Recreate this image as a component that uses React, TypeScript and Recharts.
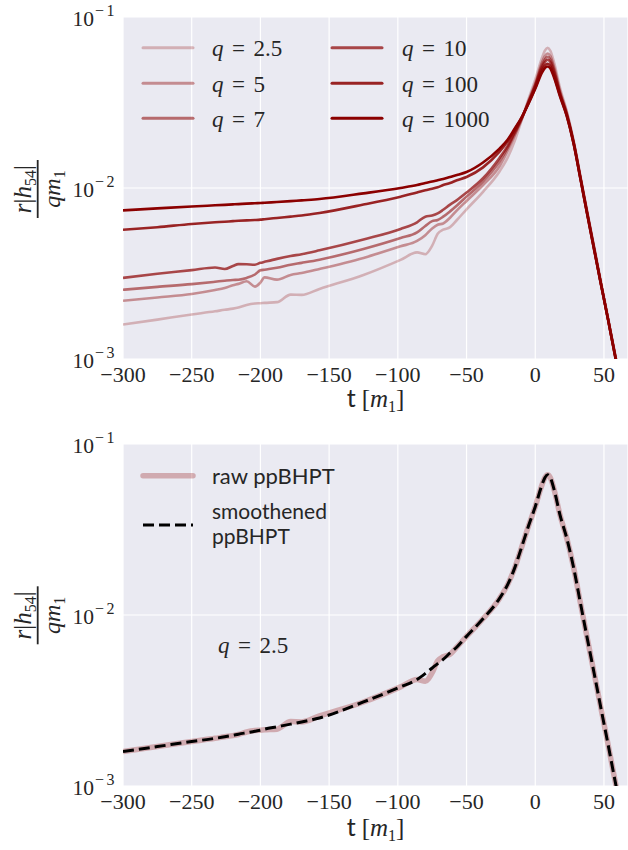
import React from 'react';
import { LineChart, Line, XAxis, YAxis, CartesianGrid } from 'recharts';

// time samples t [m1]
const times = [-300,-275,-250,-233,-226,-220,-216,-210,-204,-200,-197,-188,-178,-170,-157,-125,-98,-86,-80,-75,-71,-67,-62,-57,-50,-38,-26,-20,-15,-10,-5,0,5,7,9,11,14,18,23,28,33,38,43,48,53,58,63,68];

const q2_5 = [0.00159,0.0017,0.00182,0.0019,0.00194,0.00197,0.002,0.00207,0.00211,0.00212,0.00213,0.00215,0.00238,0.00237,0.00257,0.0031,0.0038,0.0042,0.0041,0.0046,0.0054,0.0057,0.0059,0.0065,0.0075,0.0095,0.0125,0.0151,0.0188,0.0248,0.033,0.043,0.058,0.0635,0.066,0.0635,0.053,0.0385,0.028,0.0188,0.0116,0.0072,0.0045,0.0028,0.00175,0.00108,0.00068,0.00042];
const q5 = [0.00219,0.00229,0.0024,0.00253,0.0026,0.0027,0.00275,0.00285,0.00265,0.0028,0.003,0.00291,0.0031,0.00318,0.00336,0.0039,0.00456,0.0049,0.0053,0.0058,0.0061,0.0062,0.0067,0.0074,0.0084,0.0104,0.0134,0.0165,0.0203,0.0251,0.0322,0.041,0.0545,0.059,0.0612,0.059,0.05,0.037,0.0275,0.0186,0.0115,0.0071,0.0044,0.0027,0.0017,0.00107,0.00067,0.00042];
const q7 = [0.00254,0.00264,0.00274,0.00283,0.00287,0.0029,0.00291,0.00298,0.00312,0.0033,0.00333,0.00342,0.00356,0.00365,0.00381,0.0044,0.0051,0.0055,0.006,0.0064,0.0065,0.0068,0.0073,0.0079,0.0089,0.0109,0.0143,0.0172,0.0208,0.0253,0.0318,0.04,0.0525,0.0565,0.0585,0.0565,0.048,0.036,0.027,0.0184,0.0114,0.007,0.0044,0.0027,0.0017,0.00107,0.00067,0.00042];
const q10 = [0.00298,0.00315,0.00331,0.00343,0.00336,0.0035,0.00359,0.00358,0.00356,0.00365,0.0037,0.00385,0.004,0.0041,0.00432,0.005,0.00576,0.0063,0.0068,0.0069,0.0071,0.00746,0.008,0.0085,0.0094,0.0114,0.015,0.0177,0.0212,0.0255,0.0315,0.0395,0.051,0.0545,0.0562,0.0545,0.0465,0.0355,0.0268,0.0183,0.0113,0.007,0.00435,0.0027,0.0017,0.00106,0.00067,0.00042];
const q100 = [0.0057,0.0059,0.00616,0.0063,0.00635,0.0064,0.00643,0.00647,0.0065,0.00653,0.00657,0.00668,0.0068,0.0069,0.00714,0.008,0.0089,0.0094,0.0097,0.0099,0.0101,0.0104,0.0107,0.0111,0.0116,0.0132,0.0163,0.0188,0.0219,0.0257,0.0312,0.0385,0.049,0.052,0.0533,0.0518,0.0445,0.0348,0.0264,0.0181,0.0112,0.0069,0.0043,0.0027,0.0017,0.00105,0.00066,0.00041];
const q1000 = [0.0074,0.0076,0.0078,0.00792,0.00797,0.00802,0.00805,0.0081,0.00814,0.00817,0.0082,0.00828,0.00838,0.00847,0.00862,0.0093,0.01,0.0104,0.0107,0.0109,0.0111,0.0113,0.0116,0.0119,0.0124,0.0141,0.017,0.0192,0.0222,0.0258,0.031,0.038,0.0475,0.0503,0.0514,0.05,0.0435,0.0343,0.0262,0.018,0.0112,0.0069,0.0043,0.0027,0.0017,0.00105,0.00066,0.00041];
const smooth2_5 = [0.00159,0.0017,0.00182,0.0019,0.00194,0.00198,0.00201,0.00205,0.00209,0.00212,0.00215,0.00222,0.0023,0.00237,0.0025,0.0031,0.0038,0.0042,0.00455,0.0049,0.0052,0.0055,0.006,0.0065,0.0075,0.0095,0.0125,0.0151,0.0188,0.0248,0.033,0.043,0.058,0.0635,0.066,0.0635,0.053,0.0385,0.028,0.0188,0.0116,0.0072,0.0045,0.0028,0.00175,0.00108,0.00068,0.00042];

const seriesKeys = ['q2_5', 'q5', 'q7', 'q10', 'q100', 'q1000'];
const seriesLabels = ['2.5', '5', '7', '10', '100', '1000'];
const seriesAlpha = [0.25, 0.4, 0.55, 0.7, 0.85, 1];
const xTicks = [-300, -250, -200, -150, -100, -50, 0, 50];
const yTicks = [0.001, 0.01, 0.1];

const topData = times.map((t, i) => ({ t, q2_5: q2_5[i], q5: q5[i], q7: q7[i], q10: q10[i], q100: q100[i], q1000: q1000[i] }));
const bottomData = times.map((t, i) => ({ t, raw: q2_5[i], smooth: smooth2_5[i] }));

const RED = '#8b0000';
const TXT = '#262626';
const SERIF = "'Liberation Serif', 'DejaVu Serif', serif";
const SANS = "Lato, 'DejaVu Sans', sans-serif";
const BG = '#eaeaf2';

const XTick = (props: any) => {
  const { x, y, payload } = props;
  const v = payload.value;
  const label = v < 0 ? `\u2212${Math.abs(v)}` : `${v}`;
  return (
    <text x={x} y={y + 23} textAnchor="middle" fontFamily={SERIF} fontSize={22} fill={TXT}>{label}</text>
  );
};

const YTick = (props: any) => {
  const { x, y, payload } = props;
  const exp = Math.round(Math.log10(payload.value));
  return (
    <text x={x} y={y + 9} textAnchor="end" fontFamily={SERIF} fontSize={21.5} fill={TXT}>
      10<tspan dy={-10} dx={1} fontSize={16} letterSpacing={2.5}>{`\u2212${-exp}`}</tspan>
    </text>
  );
};

const YLabel = ({ cy }: { cy: number }) => (
  <g fill={TXT} fontFamily={SERIF}>
    <text transform={`translate(31, ${cy}) rotate(-90)`} textAnchor="middle" fontSize={25} fontStyle="italic">
      r<tspan fontStyle="normal">|</tspan>h<tspan dy={5} fontSize={16} fontStyle="normal">54</tspan><tspan dy={-5} fontStyle="normal">|</tspan>
    </text>
    <line x1={37.7} x2={37.7} y1={cy - 29} y2={cy + 29} stroke={TXT} strokeWidth={1.8} />
    <text transform={`translate(60, ${cy}) rotate(-90)`} textAnchor="middle" fontSize={24} fontStyle="italic">
      qm<tspan dy={5} fontSize={16} fontStyle="normal">1</tspan>
    </text>
  </g>
);

const XLabel = ({ y }: { y: number }) => (
  <text x={375.5} y={y} textAnchor="middle" fill={TXT} fontSize={25} fontFamily={SERIF}>
    <tspan fontFamily={SANS}>t</tspan>
    <tspan dx={6}>[</tspan>
    <tspan fontStyle="italic">m</tspan>
    <tspan dy={5} fontSize={16}>1</tspan>
    <tspan dy={-5}>]</tspan>
  </text>
);

const MathQ = ({ x, y, v }: { x: number; y: number; v: string }) => (
  <text x={x} y={y} fill={TXT} fontFamily={SERIF} fontSize={23}>
    <tspan fontStyle="italic">q</tspan>
    <tspan dx={8.5}>=</tspan>
    <tspan dx={8.5}>{v}</tspan>
  </text>
);

export default function App() {
  const rowsY = [47.7, 83.3, 118.3];
  return (
    <div style={{ position: 'absolute', left: 0, top: 0, width: 628, height: 850, background: '#fff', overflow: 'hidden' }}>
      <div style={{ position: 'absolute', left: 0, top: 0 }}>
        <LineChart width={628} height={420} data={topData} margin={{ top: 17, right: 0, bottom: 0, left: 0 }}>
          <CartesianGrid fill={BG} fillOpacity={1} stroke="#ffffff" strokeWidth={1.2} />
          <XAxis dataKey="t" type="number" domain={[-300, 67.5]} ticks={xTicks} allowDataOverflow axisLine={false} tickLine={false} tickSize={0} tickMargin={0} tick={<XTick />} height={61} />
          <YAxis type="number" scale="log" domain={[0.001, 0.1]} ticks={yTicks} allowDataOverflow axisLine={false} tickLine={false} tickSize={0} tickMargin={6} tick={<YTick />} width={123} />
          {seriesKeys.map((k, i) => (
            <Line key={k} dataKey={k} type="monotone" stroke={RED} strokeOpacity={seriesAlpha[i]} strokeWidth={2.6} dot={false} isAnimationActive={false} />
          ))}
        </LineChart>
      </div>
      <div style={{ position: 'absolute', left: 0, top: 427 }}>
        <LineChart width={628} height={423} data={bottomData} margin={{ top: 17, right: 0, bottom: 0, left: 0 }}>
          <CartesianGrid fill={BG} fillOpacity={1} stroke="#ffffff" strokeWidth={1.2} />
          <XAxis dataKey="t" type="number" domain={[-300, 67.5]} ticks={xTicks} allowDataOverflow axisLine={false} tickLine={false} tickSize={0} tickMargin={0} tick={<XTick />} height={64} />
          <YAxis type="number" scale="log" domain={[0.001, 0.1]} ticks={yTicks} allowDataOverflow axisLine={false} tickLine={false} tickSize={0} tickMargin={6} tick={<YTick />} width={123} />
          <Line dataKey="raw" type="monotone" stroke={RED} strokeOpacity={0.27} strokeWidth={5.5} dot={false} isAnimationActive={false} />
          <Line dataKey="smooth" type="monotone" stroke="#000" strokeWidth={3} strokeDasharray="11 5" dot={false} isAnimationActive={false} />
        </LineChart>
      </div>
      <svg width={628} height={850} style={{ position: 'absolute', left: 0, top: 0, pointerEvents: 'none' }}>
        {seriesKeys.map((k, i) => {
          const col = i < 3 ? 0 : 1;
          const row = i % 3;
          const x0 = col === 0 ? 143 : 332;
          const tx = col === 0 ? 212 : 402;
          return (
            <g key={k}>
              <line x1={x0} x2={x0 + 50} y1={rowsY[row]} y2={rowsY[row]} stroke={RED} strokeOpacity={seriesAlpha[i]} strokeWidth={3} strokeLinecap="round" />
              <MathQ x={tx} y={rowsY[row] + 8.5} v={seriesLabels[i]} />
            </g>
          );
        })}
        <YLabel cy={189} />
        <XLabel y={407} />

        <line x1={143} x2={193} y1={475.7} y2={475.7} stroke={RED} strokeOpacity={0.27} strokeWidth={5.5} strokeLinecap="round" />
        <text x={212} y={484.3} fill={TXT} fontFamily={SANS} fontSize={22}>raw ppBHPT</text>
        <line x1={143} x2={193} y1={525} y2={525} stroke="#000" strokeWidth={3} strokeDasharray="11 5" />
        <text x={212} y={518.5} fill={TXT} fontFamily={SANS} fontSize={21}>smoothened</text>
        <text x={212} y={543.5} fill={TXT} fontFamily={SANS} fontSize={21}>ppBHPT</text>
        <MathQ x={218} y={653.3} v="2.5" />
        <YLabel cy={615.3} />
        <XLabel y={836} />
      </svg>
    </div>
  );
}
